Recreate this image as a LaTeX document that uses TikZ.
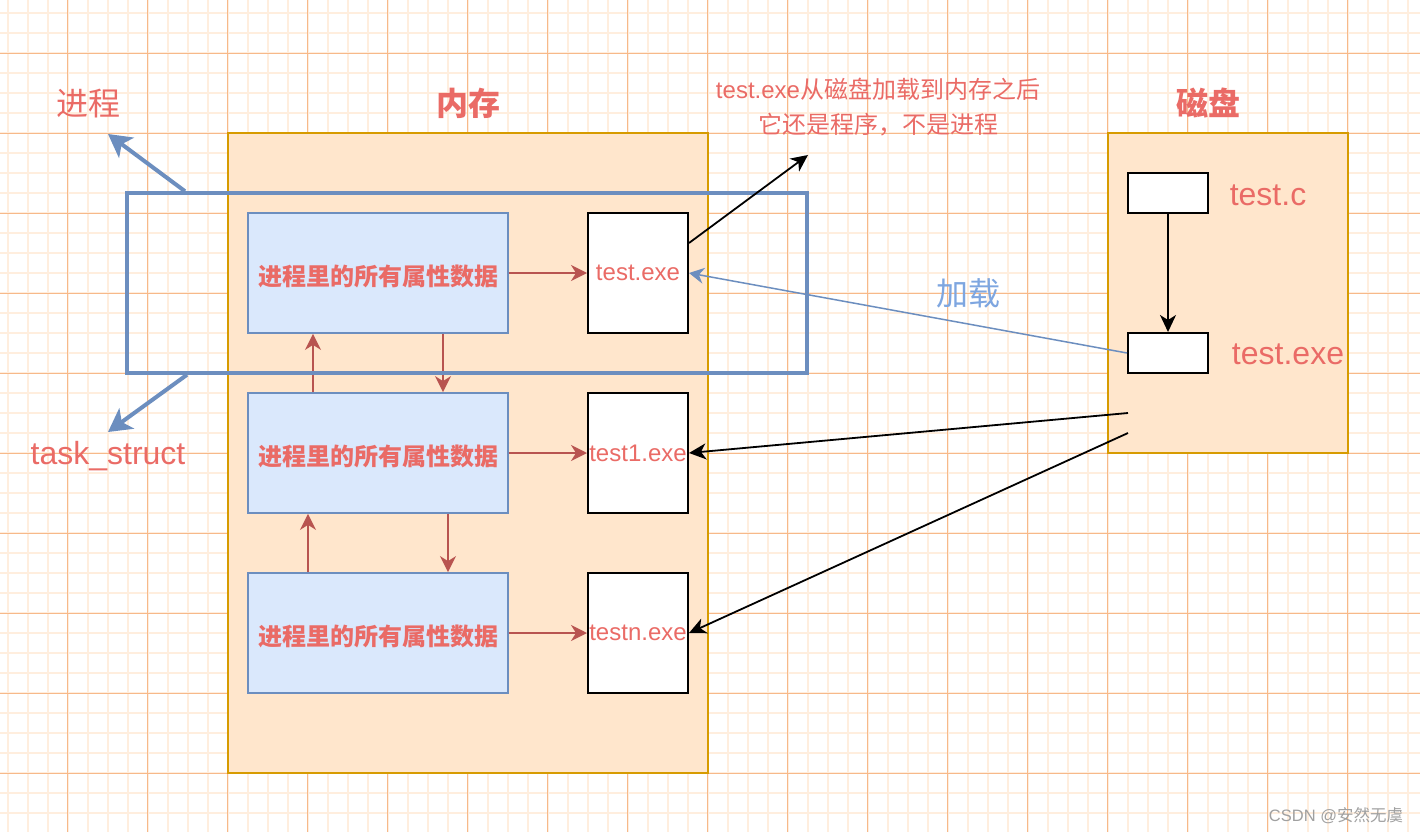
\documentclass[tikz,border=0pt]{standalone}
\usepackage{fontspec}
\setmainfont{Liberation Sans}
\newfontfamily\cjk{Noto Sans CJK SC}
\usetikzlibrary{arrows.meta}
\definecolor{txtred}{HTML}{EA6B66}
\definecolor{arrred}{HTML}{B85450}
\definecolor{bstroke}{HTML}{6C8EBF}
\definecolor{bfill}{HTML}{DAE8FC}
\definecolor{ofill}{HTML}{FFE6CC}
\definecolor{ostroke}{HTML}{D79B00}
\definecolor{loadblue}{HTML}{7EA6E0}
\definecolor{gridminor}{HTML}{FFEEDE}
\definecolor{gridmajor}{HTML}{F7B98A}
\definecolor{wmgray}{HTML}{A0A0A0}
\newcommand\fsz[1]{\fontsize{#1}{#1}\selectfont}
\begin{document}
\begin{tikzpicture}[x=1pt,y=-1pt,
  container/.style={draw=ostroke,fill=ofill,line width=2pt,inner sep=0pt},
  procbox/.style={draw=bstroke,fill=bfill,line width=1.8pt,minimum width=260pt,minimum height=120pt,inner sep=0pt,text height=28pt,text depth=3pt,text=txtred,font=\cjk\bfseries\fsz{24}},
  filebox/.style={draw=black,fill=white,line width=2pt,minimum width=100pt,minimum height=120pt,inner sep=0pt,text=txtred,font=\fsz{24}},
  smallbox/.style={draw=black,fill=white,line width=2pt,minimum width=80pt,minimum height=40pt,inner sep=0pt},
  redarrow/.style={draw=arrred,line width=1.8pt,-{Stealth[length=16pt,width=16pt,inset=5pt]}},
  blackarrow/.style={draw=black,line width=1.8pt,-{Stealth[length=17pt,width=16pt,inset=5pt]}},
  bigarrow/.style={draw=bstroke,line width=4pt,-{Stealth[length=23pt,width=25pt,inset=6pt]}},
  loadarrow/.style={draw=bstroke,line width=1.5pt,-{Stealth[length=15pt,width=16pt,inset=5pt]}},
  lbl/.style={text=txtred,inner sep=0pt,anchor=base},
]
\useasboundingbox (0,0) rectangle (1420,832);
\fill[white] (0,0) rectangle (1420,832);
% grid
\foreach \x in {7.5,27.5,...,1420} \draw[gridminor,line width=2pt] (\x,0) -- (\x,832);
\foreach \y in {13.3,33.3,...,832} \draw[gridminor,line width=2pt] (0,\y) -- (1420,\y);
\foreach \x in {67.5,147.5,...,1420} \draw[gridmajor,line width=1pt] (\x,0) -- (\x,832);
\foreach \y in {53.3,133.3,...,832} \draw[gridmajor,line width=1pt] (0,\y) -- (1420,\y);

% containers
\node[container,minimum width=480pt,minimum height=640pt] (mem) at (468,453) {};
\node[container,minimum width=240pt,minimum height=320pt] (disk) at (1228,293) {};

% process boxes
\node[procbox] (p1) at (378,273) {进程里的所有属性数据};
\node[procbox] (p2) at (378,453) {进程里的所有属性数据};
\node[procbox] (p3) at (378,633) {进程里的所有属性数据};
\node[filebox] (e1) at (638,273) {test.exe};
\node[filebox] (e2) at (638,453) {test1.exe};
\node[filebox] (e3) at (638,633) {testn.exe};

% disk boxes
\node[smallbox] (dc) at (1168,193) {};
\node[smallbox] (dx) at (1168,353) {};

% red arrows
\draw[redarrow] (p1.east) -- (e1.west);
\draw[redarrow] (p2.east) -- (e2.west);
\draw[redarrow] (p3.east) -- (e3.west);
\draw[redarrow] ([xshift=65pt]p1.south) -- ([xshift=65pt]p2.north);
\draw[redarrow] ([xshift=-65pt]p2.north) -- ([xshift=-65pt]p1.south);
\draw[redarrow] ([xshift=70pt]p2.south) -- ([xshift=70pt]p3.north);
\draw[redarrow] ([xshift=-70pt]p3.north) -- ([xshift=-70pt]p2.south);

% big blue frame
\node[draw=bstroke,line width=3.5pt,minimum width=680pt,minimum height=180pt,inner sep=0pt] (big) at (467,283) {};

% labels
\node[lbl,font=\cjk\fsz{32}] (lproc) at (88,115.5) {进程};
\node[lbl,font=\fsz{32}] (ltask) at (108,464) {task\_struct};
\node[lbl,font=\cjk\bfseries\fsz{32}] (lmem) at (468,115.5) {内存};
\node[lbl,font=\cjk\bfseries\fsz{32}] (ldisk) at (1208,115.5) {磁盘};
\node[lbl,font=\fsz{32}] (ltc) at (1268,205) {test.c};
\node[lbl,font=\fsz{32}] (ltx) at (1288,364) {test.exe};
\node[lbl,text=loadblue,font=\cjk\fsz{32}] (lload) at (968,305) {加载};
\node[text=txtred,inner sep=0pt,anchor=north,align=center,font=\fontsize{24}{35}\selectfont] (note) at (878,78)
  {test.exe{\cjk 从磁盘加载到内存之后}\\{\cjk 它还是程序，不是进程}};
\node[lbl,text=wmgray,font=\fsz{16.5}] (wm) at (1336,821) {CSDN @{\cjk 安然无虞}};

% connectors
\coordinate (noteend) at (808,155);
\coordinate (s1) at (1128,413);
\coordinate (s2) at (1128,433);
\coordinate (procpt) at (108,134);
\coordinate (taskpt) at (108,432);
\draw[blackarrow] (dc.south) -- (dx.north);
\draw[loadarrow] (dx.west) -- (e1.east);
\draw[blackarrow] (s1) -- (e2.east);
\draw[blackarrow] (s2) -- (e3.east);
\draw[blackarrow] ([yshift=30pt]e1.east) -- (noteend);
\draw[bigarrow] ([xshift=-282pt]big.north) -- (procpt);
\draw[bigarrow] ([xshift=-280pt]big.south) -- (taskpt);
\end{tikzpicture}
\end{document}
